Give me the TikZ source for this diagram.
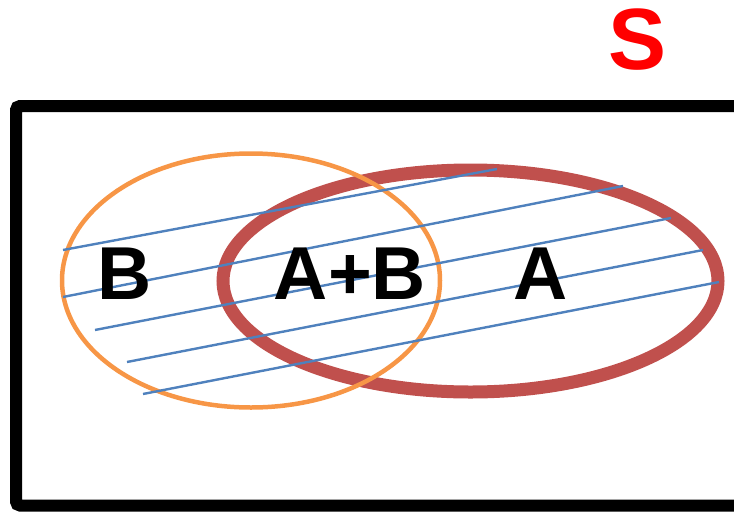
\documentclass[tikz,border=0pt]{standalone}
\usepackage{fontspec}
\setmainfont{Liberation Sans}
\usepackage{tikz}

\definecolor{setA}{HTML}{C0504D}
\definecolor{setB}{HTML}{F79646}
\definecolor{hatch}{HTML}{4F81BD}
\definecolor{spaceS}{HTML}{FF0000}

\begin{document}
\begin{tikzpicture}[
  x=1pt, y=-1pt,
  frame/.style={draw=black, line width=12pt, rounded corners=4pt},
  ring/.style={draw=#1},
  hline/.style={draw=hatch, line width=2.4pt},
  lbl/.style={font=\fontsize{75}{75}\selectfont\bfseries, text=black, inner sep=0pt},
]
\useasboundingbox (0,0) rectangle (734,512);

%% ====================================================
%% Sample space
%% ====================================================
\draw[frame] (16,106) rectangle (740,505.5);
\node[lbl, font=\fontsize{87}{87}\selectfont\bfseries, text=spaceS] (lS) at (638,40) {S};

%% ====================================================
%% Events A and B
%% ====================================================
\draw[ring=setA, line width=13pt] (470.5,281) ellipse [x radius=247.5, y radius=111];
\draw[ring=setB, line width=4.5pt] (251,280.5) ellipse [x radius=189, y radius=127];

%% Hatching (union)
\foreach \xa/\ya/\xb/\yb in {63/250/497/169, 63/297/623/186, 95/330/671/218,
                             127/362/703/250, 143/394/719/282} {
  \draw[hline] (\xa,\ya) -- (\xb,\yb);
}

%% Labels
\node[lbl] (lB)  at (125,274) {B};
\node[lbl] (lAB) at (350,274) {A+B};
\node[lbl] (lA)  at (541,274) {A};

\end{tikzpicture}
\end{document}
